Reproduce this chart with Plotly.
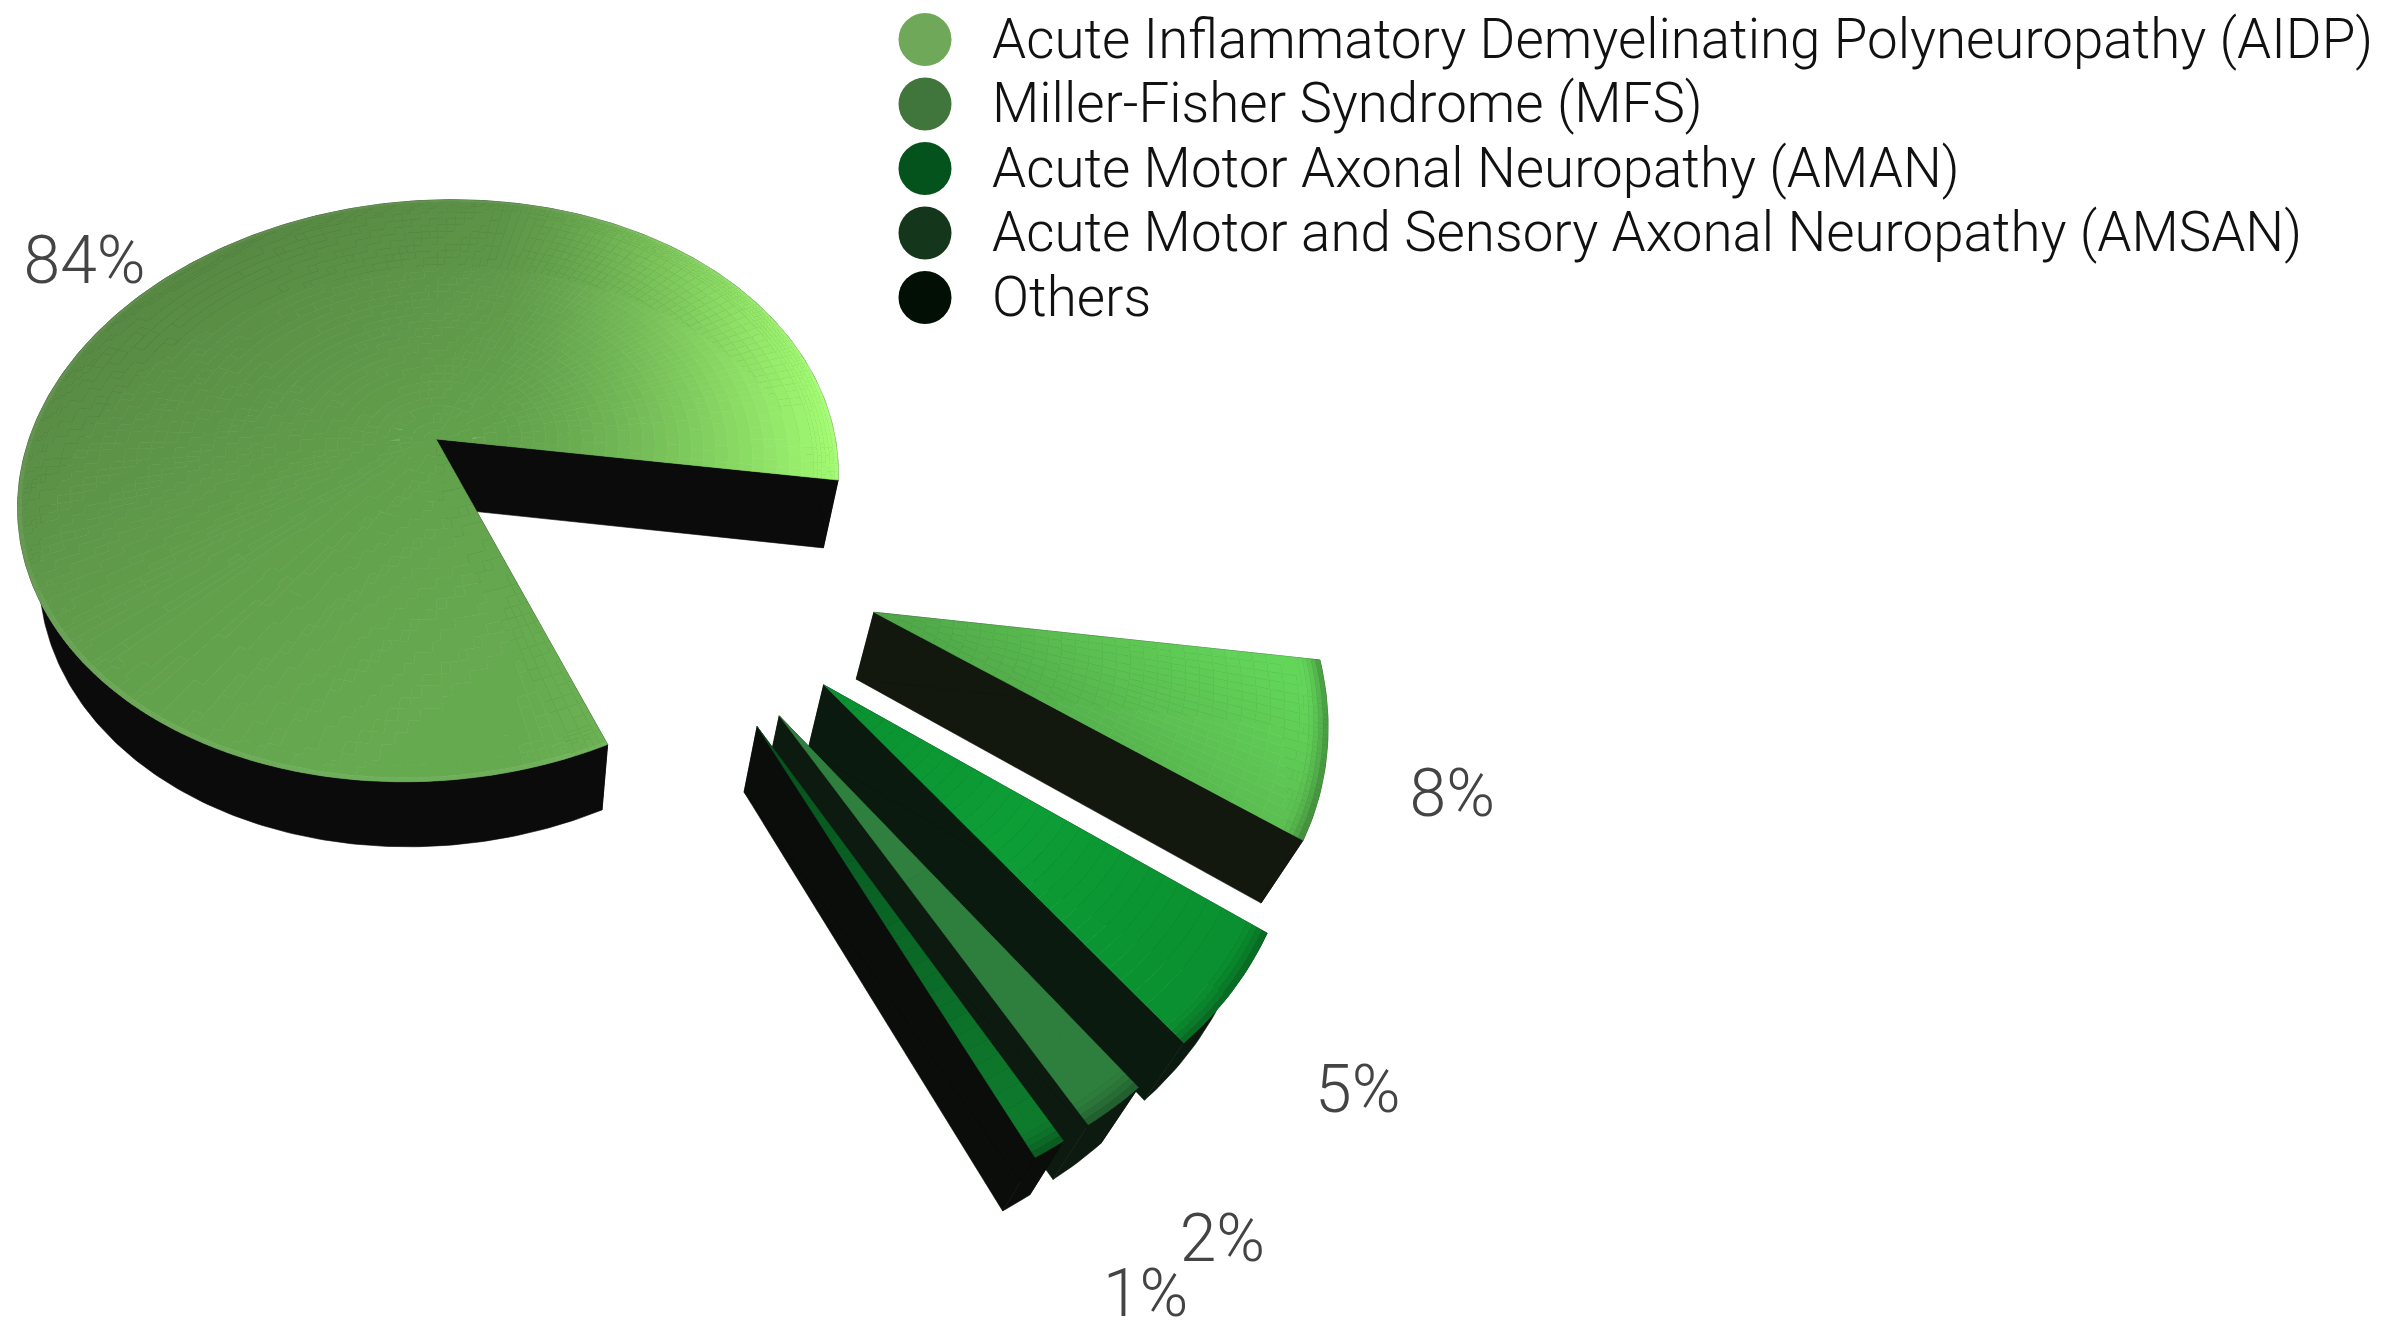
import numpy as np
import plotly.graph_objects as go

# Share of each subtype, drawn as an exploded perspective pie
categories = ["Acute Inflammatory Demyelinating Polyneuropathy (AIDP)",
              "Miller-Fisher Syndrome (MFS)",
              "Acute Motor Axonal Neuropathy (AMAN)",
              "Acute Motor and Sensory Axonal Neuropathy (AMSAN)",
              "Others"]
legend_colors = ["#70a85a", "#40753c", "#05531c", "#14361a", "#020f04"]
values = [84, 8, 5, 2, 1]
value_labels = ["84%", "8%", "5%", "2%", "1%"]

WIDTH, HEIGHT = 2400, 1321

# Camera: screen position of the main apex, plane scales, skew, depth falloff, vertical vanishing point
APEX = np.array([436.0, 439.0])
VANISH = np.array([496.0, 2045.0])
SCALE_X, SCALE_Y, SKEW, FALLOFF_Y, FALLOFF_X = 406.0, 283.0, 11.5, 0.178, 0.019
THICKNESS = 0.0446
up = (APEX - VANISH) / np.linalg.norm(APEX - VANISH)
right = np.array([-up[1], up[0]])

# Pie layout on the ground plane, in radii; the large slice sits at the origin
CENTER = np.array([0.443, -0.35])
START_ANGLE = -11.3
EXPLODE = 0.60
RADIUS_MAIN, RADIUS_REST = 0.995, 0.985
LABEL_RADIUS_MAIN, LABEL_RADIUS_REST = 1.28, 1.235
LABEL_DROP_MAIN, LABEL_DROP_REST, LEGEND_TEXT_DROP = 21, 11, 4.5
MIN_CELL_ARC = 0.02


def project(x, y, z=0.0):
    """Ground-plane point (z = 0 top face, z = 1 bottom face) to screen pixels."""
    x, y = np.asarray(x, float), np.asarray(y, float)
    w = 1 + FALLOFF_Y * y + FALLOFF_X * x
    sx = SCALE_X * x * right[0] + SCALE_Y * y * up[0] + SKEW * y + APEX[0] * w
    sy = SCALE_X * x * right[1] + SCALE_Y * y * up[1] + APEX[1] * w
    d = THICKNESS * z
    return (sx + d * VANISH[0]) / (w + d), (sy + d * VANISH[1]) / (w + d)


def hex2rgb(h):
    return np.array([int(h[i:i + 2], 16) for i in (1, 3, 5)], float)


def ramp(stops, t):
    ts = [s[0] for s in stops]
    return np.array([np.interp(t, ts, [hex2rgb(s[1])[c] for s in stops]) for c in range(3)])


main_stops = [(-0.6, "#66aa50"), (0.0, "#62a04c"), (1.0, "#578843")]
main_highlight = hex2rgb("#a2fb72")
rest_stops = [
    [(0.0, "#4fa548"), (0.35, "#5cc152"), (0.65, "#63d65a")],
    [(0.0, "#0a8f30"), (0.5, "#0d9e36"), (0.9, "#0a9030")],
    [(0.0, "#2f803e"), (0.9, "#2e7f3e")],
    [(0.0, "#06501d"), (0.6, "#0b6a27"), (0.9, "#0e7a2c")],
]
wall_colors = ["#0b0b0b", "#13180f", "#0a1a0f", "#0d1a10", "#0a0d0a"]


def top_color(index, lx, ly, r_frac, wx, wy):
    if index == 0:
        c = ramp(main_stops, (wy - wx) / np.sqrt(2))
        glow = np.clip((wx - 0.15) / 0.83, 0, 1) ** 1.6
        c = c + (main_highlight - c) * glow
        if r_frac > 0.985:
            c = c + (255 - c) * 0.06
        return c
    if index == 1:
        c = ramp(rest_stops[0], lx * np.cos(np.radians(30)) + ly * np.sin(np.radians(30)))
    else:
        c = ramp(rest_stops[index - 1], np.hypot(lx, ly))
    if r_frac > 0.95:
        c = c * (1 - 0.3 * ((r_frac - 0.95) / 0.05) ** 2)
    return c


fig = go.Figure()


def add_polys(polys, color):
    xs, ys = [], []
    for px, py in polys:
        xs += list(px) + [px[0], None]
        ys += list(py) + [py[0], None]
    fig.add_trace(go.Scatter(x=xs, y=ys, mode="lines", fill="toself", fillcolor=color,
                             line=dict(color=color, width=0.6), hoverinfo="skip",
                             showlegend=False))


# Angular span of every slice: the large slice runs counter-clockwise, the rest clockwise
fractions = np.array(values, float) / sum(values) * 360
spans = [(START_ANGLE, START_ANGLE + fractions[0])]
a = START_ANGLE
for f in fractions[1:]:
    spans.append((a - f, a))
    a -= f

label_x, label_y = [], []
for i, (a0, a1) in enumerate(spans):
    mid = np.radians((a0 + a1) / 2)
    direction = np.array([np.cos(mid), np.sin(mid)])
    tip = np.zeros(2) if i == 0 else CENTER + EXPLODE * direction
    radius = RADIUS_MAIN if i == 0 else RADIUS_REST

    lr = LABEL_RADIUS_MAIN if i == 0 else LABEL_RADIUS_REST
    lp = project(*(tip + lr * direction))
    label_x.append(lp[0])
    label_y.append(lp[1] + (LABEL_DROP_MAIN if i == 0 else LABEL_DROP_REST))

    n_ang = max(8, int((a1 - a0) / 0.8))
    angles = np.radians(np.linspace(a0, a1, n_ang + 1))
    step_ang = angles[1] - angles[0]
    ax = tip[0] + radius * np.cos(angles)
    ay = tip[1] + radius * np.sin(angles)

    # Side walls: the two radial faces and the curved rim, each its own fill
    for ex, ey in ((ax[0], ay[0]), (ax[-1], ay[-1])):
        p0 = project(tip[0], tip[1]); p1 = project(ex, ey)
        p2 = project(ex, ey, 1); p3 = project(tip[0], tip[1], 1)
        add_polys([([p0[0], p1[0], p2[0], p3[0]], [p0[1], p1[1], p2[1], p3[1]])], wall_colors[i])
    tx, ty = project(ax, ay)
    bx, by = project(ax, ay, 1)
    add_polys([(list(tx) + list(bx[::-1]), list(ty) + list(by[::-1]))], wall_colors[i])

    # Top face: cells grouped by shade, with wider cells towards the apex
    r_edges = np.r_[np.linspace(0, 0.94, 32), np.linspace(0.95, 1.0, 6)]
    cells = {}
    for k in range(len(r_edges) - 1):
        r0, r1 = r_edges[k] * radius, r_edges[k + 1] * radius
        rm = (r0 + r1) / 2
        stride = max(1, int(round(MIN_CELL_ARC / (rm * step_ang))))
        for j in range(0, n_ang, stride):
            fan = angles[j:min(j + stride, n_ang) + 1]
            lx = np.r_[r1 * np.cos(fan), r0 * np.cos(fan[::-1])]
            ly = np.r_[r1 * np.sin(fan), r0 * np.sin(fan[::-1])]
            tm = fan.mean()
            mx, my = rm * np.cos(tm), rm * np.sin(tm)
            c = top_color(i, mx, my, (r_edges[k] + r_edges[k + 1]) / 2, tip[0] + mx, tip[1] + my)
            c = np.round(c).clip(0, 255).astype(int)
            key = "#%02x%02x%02x" % tuple(c)
            cells.setdefault(key, []).append(project(tip[0] + lx, tip[1] + ly))
    for key, polys in cells.items():
        add_polys(polys, key)

# Percentage labels placed beyond each slice
fig.add_trace(go.Scatter(x=label_x, y=label_y, mode="text",
                         text=value_labels, textposition="middle center",
                         textfont=dict(family="Roboto", size=66, color="#444444", weight=300),
                         hoverinfo="skip", showlegend=False))

# Key in the top right corner
LEGEND_X, TEXT_X, LEGEND_TOP, LEGEND_STEP = 925, 992, 39.5, 64.5
legend_y = [LEGEND_TOP + n * LEGEND_STEP for n in range(len(categories))]
fig.add_trace(go.Scatter(x=[LEGEND_X] * len(categories), y=legend_y, mode="markers",
                         marker=dict(size=53, color=legend_colors, line=dict(width=0)),
                         hoverinfo="skip", showlegend=False))
fig.add_trace(go.Scatter(x=[TEXT_X] * len(categories), y=[v + LEGEND_TEXT_DROP for v in legend_y], mode="text",
                         text=categories, textposition="middle right",
                         textfont=dict(family="Roboto", size=54.7, color="#111111", weight=300),
                         hoverinfo="skip", showlegend=False))

fig.update_layout(width=WIDTH, height=HEIGHT, margin=dict(l=0, r=0, t=0, b=0),
                  paper_bgcolor="white", plot_bgcolor="white", showlegend=False,
                  xaxis=dict(range=[0, WIDTH], visible=False, fixedrange=True),
                  yaxis=dict(range=[HEIGHT, 0], visible=False, fixedrange=True))
fig.write_html("out.html")
